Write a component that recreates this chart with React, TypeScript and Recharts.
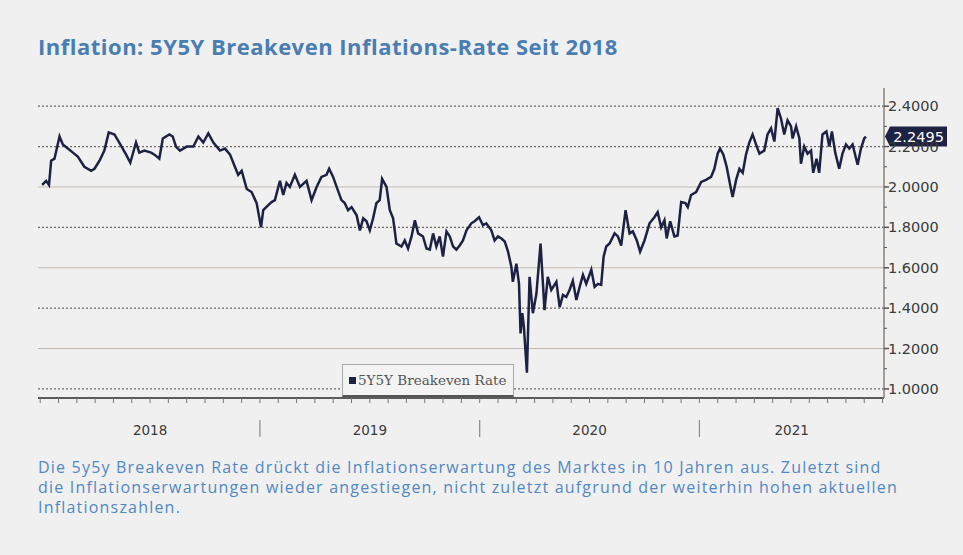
import { LineChart, Line, XAxis, YAxis, ReferenceLine } from 'recharts';

// decimal year of each observation
const dates = [
  2018.009, 2018.027, 2018.04, 2018.05, 2018.065, 2018.088, 2018.103, 2018.126, 2018.149, 2018.171,
  2018.201, 2018.232, 2018.247, 2018.27, 2018.292, 2018.312, 2018.338, 2018.36, 2018.391, 2018.41,
  2018.436, 2018.451, 2018.474, 2018.505, 2018.52, 2018.542, 2018.558, 2018.588, 2018.603, 2018.618,
  2018.636, 2018.667, 2018.697, 2018.72, 2018.742, 2018.765, 2018.788, 2018.818, 2018.841, 2018.864,
  2018.886, 2018.901, 2018.917, 2018.94, 2018.962, 2018.985, 2019.005, 2019.015, 2019.038, 2019.053,
  2019.068, 2019.091, 2019.106, 2019.121, 2019.136, 2019.159, 2019.182, 2019.212, 2019.235, 2019.258,
  2019.28, 2019.303, 2019.315, 2019.333, 2019.349, 2019.371, 2019.386, 2019.401, 2019.417, 2019.44,
  2019.455, 2019.47, 2019.485, 2019.5, 2019.515, 2019.53, 2019.545, 2019.556, 2019.576, 2019.591,
  2019.606, 2019.621, 2019.644, 2019.659, 2019.674, 2019.69, 2019.705, 2019.72, 2019.742, 2019.758,
  2019.773, 2019.788, 2019.803, 2019.818, 2019.833, 2019.849, 2019.864, 2019.879, 2019.894, 2019.909,
  2019.924, 2019.94, 2019.962, 2019.977, 2019.997, 2020.015, 2020.03, 2020.053, 2020.068, 2020.083,
  2020.099, 2020.114, 2020.129, 2020.144, 2020.151, 2020.167, 2020.179, 2020.186, 2020.194, 2020.201,
  2020.215, 2020.227, 2020.242, 2020.258, 2020.277, 2020.295, 2020.31, 2020.326, 2020.349, 2020.364,
  2020.379, 2020.394, 2020.409, 2020.424, 2020.44, 2020.455, 2020.47, 2020.485, 2020.508, 2020.523,
  2020.538, 2020.553, 2020.564, 2020.576, 2020.591, 2020.614, 2020.629, 2020.644, 2020.664, 2020.682,
  2020.697, 2020.715, 2020.73, 2020.75, 2020.773, 2020.795, 2020.81, 2020.826, 2020.841, 2020.851,
  2020.867, 2020.886, 2020.901, 2020.917, 2020.936, 2020.947, 2020.962, 2020.985, 2021.008, 2021.03,
  2021.053, 2021.068, 2021.083, 2021.094, 2021.109, 2021.124, 2021.14, 2021.151, 2021.167, 2021.182,
  2021.197, 2021.212, 2021.227, 2021.242, 2021.258, 2021.273, 2021.295, 2021.31, 2021.326, 2021.341,
  2021.356, 2021.371, 2021.386, 2021.401, 2021.417, 2021.424, 2021.44, 2021.455, 2021.462, 2021.477,
  2021.492, 2021.508, 2021.518, 2021.533, 2021.545, 2021.56, 2021.578, 2021.591, 2021.603, 2021.618,
  2021.636, 2021.651, 2021.667, 2021.682, 2021.697, 2021.72, 2021.735, 2021.75, 2021.758,
];

const rates = [
  2.01, 2.03, 2.01, 2.13, 2.14, 2.25, 2.21, 2.19, 2.17, 2.15,
  2.1, 2.08, 2.09, 2.13, 2.18, 2.27, 2.26, 2.22, 2.16, 2.12,
  2.22, 2.17, 2.18, 2.17, 2.16, 2.14, 2.24, 2.26, 2.25, 2.2,
  2.18, 2.2, 2.2, 2.25, 2.22, 2.265, 2.22, 2.18, 2.19, 2.16,
  2.1, 2.06, 2.08, 1.99, 1.975, 1.92, 1.8, 1.885, 1.91, 1.925,
  1.935, 2.03, 1.96, 2.02, 2.0, 2.06, 2.0, 2.03, 1.935, 2.0,
  2.05, 2.06, 2.09, 2.05, 2.0, 1.935, 1.92, 1.885, 1.9, 1.86,
  1.785, 1.845, 1.83, 1.785, 1.845, 1.92, 1.935, 2.04, 2.0, 1.885,
  1.845, 1.72, 1.705, 1.735, 1.695, 1.755, 1.835, 1.77, 1.755, 1.695,
  1.69, 1.77, 1.705, 1.755, 1.655, 1.78, 1.755, 1.705, 1.69, 1.71,
  1.735, 1.785, 1.82, 1.83, 1.85, 1.81, 1.82, 1.785, 1.735, 1.755,
  1.745, 1.73, 1.68, 1.605, 1.53, 1.62, 1.52, 1.275, 1.375, 1.31,
  1.08, 1.555, 1.375, 1.47, 1.72, 1.39, 1.555, 1.49, 1.53, 1.405,
  1.465, 1.455, 1.49, 1.535, 1.44, 1.505, 1.565, 1.52, 1.59, 1.505,
  1.52, 1.515, 1.655, 1.705, 1.72, 1.77, 1.755, 1.71, 1.885, 1.77,
  1.78, 1.735, 1.68, 1.735, 1.82, 1.85, 1.875, 1.8, 1.835, 1.745,
  1.83, 1.755, 1.76, 1.925, 1.92, 1.9, 1.96, 1.975, 2.025, 2.035,
  2.05, 2.09, 2.165, 2.19, 2.16, 2.1, 2.01, 1.95, 2.035, 2.09,
  2.07, 2.16, 2.22, 2.26, 2.21, 2.165, 2.18, 2.26, 2.29, 2.225,
  2.39, 2.34, 2.26, 2.33, 2.3, 2.24, 2.3, 2.24, 2.115, 2.2,
  2.165, 2.18, 2.07, 2.14, 2.07, 2.26, 2.275, 2.2, 2.275, 2.17,
  2.09, 2.165, 2.21, 2.19, 2.21, 2.11, 2.19, 2.24, 2.2495,
];

const years = [2018, 2019, 2020, 2021];
const yMajor = [1.0, 1.2, 1.4, 1.6, 1.8, 2.0, 2.2, 2.4];
const dottedLevels = [1.0, 1.4, 1.8, 2.2, 2.4];
const lastRate = 2.2495;
const seriesName = '5Y5Y Breakeven Rate';

const X_MIN = 2017.99;
const X_MAX = 2021.84;

const data = dates.map((t, i) => ({ t, rate: rates[i] }));

const monthTicks: number[] = [];
years.forEach((y) => {
  for (let m = 0; m < 12; m++) {
    const v = y + m / 12;
    if (v <= X_MAX) monthTicks.push(v);
  }
});
const labelPos = years.map((y) => (Math.min(y + 1, X_MAX) + Math.max(y, 2018)) / 2);
const xTicks = Array.from(new Set([...monthTicks, ...labelPos])).sort((a, b) => a - b);

const yTicks: number[] = [];
for (let k = 10; k <= 24; k++) yTicks.push(k / 10);

const NAVY = '#1d2142';

function XTick(props: any) {
  const { x, y, payload } = props;
  const v = payload.value as number;
  const isMonth = monthTicks.some((m) => Math.abs(m - v) < 1e-6);
  const isYear = Math.abs(v - Math.round(v)) < 1e-6 && v > 2018.5;
  const li = labelPos.findIndex((p) => Math.abs(p - v) < 1e-6);
  return (
    <g>
      {isMonth && <line x1={x} y1={y} x2={x} y2={y + 5} stroke="#777" strokeWidth={1} />}
      {isYear && <line x1={x} y1={y + 22} x2={x} y2={y + 39} stroke="#8a8a8a" strokeWidth={1.2} />}
      {li >= 0 && (
        <text x={x} y={y + 37} textAnchor="middle" fontSize={13.5} fill="#3a3a3a" fontFamily="DejaVu Sans">
          {years[li]}
        </text>
      )}
    </g>
  );
}

function YTick(props: any) {
  const { x, y, payload } = props;
  const v = payload.value as number;
  const major = yMajor.some((m) => Math.abs(m - v) < 1e-6);
  return (
    <g>
      <line x1={x} y1={y} x2={x + (major ? 5 : 3)} y2={y} stroke="#555" strokeWidth={major ? 1.5 : 1} />
      {major && (
        <text x={x + 4} y={y + 5} fontSize={14.5} fill="#3a3a3a" fontFamily="DejaVu Sans">
          {v.toFixed(4)}
        </text>
      )}
    </g>
  );
}

function LastValueTag(props: any) {
  const { viewBox } = props;
  if (!viewBox) return null;
  const right = viewBox.x + viewBox.width;
  const cy = viewBox.y;
  const left = right + 6;
  return (
    <g>
      <polygon
        points={`${right + 1},${cy} ${left},${cy - 10} ${left + 57},${cy - 10} ${left + 57},${cy + 10} ${left},${cy + 10}`}
        fill={NAVY}
      />
      <text x={left + 28.5} y={cy + 5} textAnchor="middle" fontSize={14.5} fill="#fff" fontFamily="DejaVu Sans">
        {lastRate.toFixed(4)}
      </text>
    </g>
  );
}

export default function App() {
  return (
    <div
      style={{
        position: 'fixed',
        left: 0,
        top: 0,
        width: 963,
        height: 555,
        background: '#f0f0f0',
        overflow: 'hidden',
      }}
    >
      <div
        style={{
          position: 'absolute',
          left: 38,
          top: 33,
          fontFamily: '"Open Sans", sans-serif',
          fontWeight: 700,
          fontSize: 22,
          letterSpacing: 0.5,
          lineHeight: '26px',
          color: '#4a7eb2',
          whiteSpace: 'nowrap',
        }}
      >
        Inflation: 5Y5Y Breakeven Inflations-Rate Seit 2018
      </div>

      <div style={{ position: 'absolute', left: 0, top: 0 }}>
        <LineChart width={963} height={450} data={data} margin={{ top: 88, right: 4, bottom: 12, left: 38 }}>
          {yMajor.map((v) => {
            const dotted = dottedLevels.includes(v);
            return (
              <ReferenceLine
                key={v}
                y={v}
                stroke={dotted ? '#6f6660' : '#c4b9b2'}
                strokeWidth={dotted ? 1.3 : 1}
                strokeDasharray={dotted ? '2 2' : undefined}
              />
            );
          })}
          <XAxis
            type="number"
            dataKey="t"
            domain={[X_MIN, X_MAX]}
            allowDataOverflow
            ticks={xTicks}
            interval={0}
            tick={<XTick />}
            tickLine={false}
            tickSize={0}
            tickMargin={0}
            height={40}
            axisLine={{ stroke: '#2a2a2a', strokeWidth: 1.5 }}
          />
          <YAxis
            orientation="right"
            type="number"
            domain={[0.955, 2.49]}
            allowDataOverflow
            ticks={yTicks}
            interval={0}
            tick={<YTick />}
            tickLine={false}
            tickSize={0}
            tickMargin={0}
            width={75}
            axisLine={{ stroke: '#8b807a', strokeWidth: 1.5 }}
          />
          <Line
            type="linear"
            dataKey="rate"
            name={seriesName}
            stroke={NAVY}
            strokeWidth={2.5}
            dot={false}
            isAnimationActive={false}
          />
          <ReferenceLine y={lastRate} stroke="none" ifOverflow="visible" label={<LastValueTag />} />
        </LineChart>
      </div>

      <div
        style={{
          position: 'absolute',
          left: 342,
          top: 364,
          width: 172,
          height: 33,
          boxSizing: 'border-box',
          border: '1px solid #a9a9a9',
          borderBottom: '2px solid #555',
          background: '#f3f3f3',
          display: 'flex',
          alignItems: 'center',
          paddingLeft: 6,
          fontFamily: '"DejaVu Serif", serif',
          fontSize: 13.5,
          color: '#555',
          whiteSpace: 'nowrap',
        }}
      >
        <span style={{ display: 'inline-block', width: 7, height: 7, background: NAVY, marginRight: 2 }} />
        {seriesName}
      </div>

      <div
        style={{
          position: 'absolute',
          left: 38,
          top: 457,
          fontFamily: '"Open Sans", sans-serif',
          fontWeight: 400,
          fontSize: 16,
          letterSpacing: 1.2,
          lineHeight: '20px',
          color: '#5288c2',
          whiteSpace: 'nowrap',
        }}
      >
        Die 5y5y Breakeven Rate drückt die Inflationserwartung des Marktes in 10 Jahren aus. Zuletzt sind
        <br />
        die Inflationserwartungen wieder angestiegen, nicht zuletzt aufgrund der weiterhin hohen aktuellen
        <br />
        Inflationszahlen.
      </div>
    </div>
  );
}
